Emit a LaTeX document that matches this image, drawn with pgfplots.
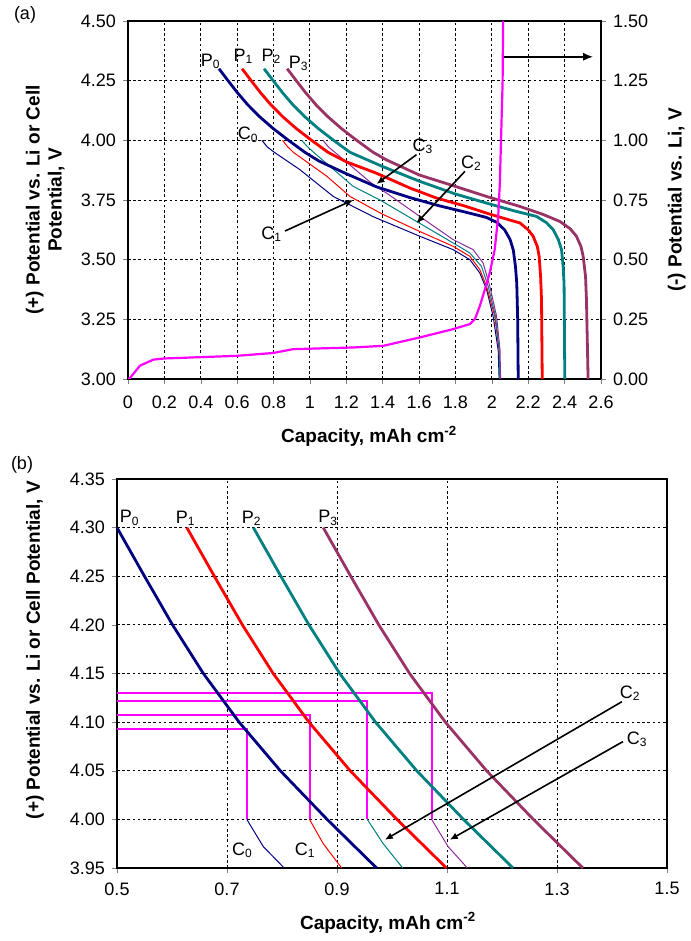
\documentclass[border=0pt]{standalone}
\usepackage{fontspec}
\setmainfont{Liberation Sans}
\usepackage{pgfplots}
\pgfplotsset{compat=1.18}
\usetikzlibrary{arrows.meta}

\definecolor{pnavy}{HTML}{000080}
\definecolor{pred}{HTML}{FF0000}
\definecolor{pteal}{HTML}{008080}
\definecolor{pplum}{HTML}{993366}
\definecolor{cviol}{HTML}{8E2A9E}
\definecolor{anode}{HTML}{FF00FF}

\pgfplotsset{
  basestyle/.style={
    scale only axis,
    /pgf/number format/assume math mode=true,
    tick label style={font=\fontsize{9}{10}\selectfont},
    label style={font=\fontsize{9.5}{11}\selectfont\bfseries},
    tick align=outside,
    major tick length=2.5pt,
    axis line style={line width=1pt},
    major grid style={black, line width=0.45pt, dash pattern=on 1.3pt off 1.3pt},
  },
  thickP/.style={line width=1.4pt},
  thinC/.style={line width=0.5pt},
}
\newcommand{\lab}{\fontsize{9}{10}\selectfont}

\begin{document}
\begin{tikzpicture}
\useasboundingbox (0,0) rectangle (345pt,470.5pt);

% ================= panel (a) =================
\begin{axis}[basestyle,
  at={(64pt,281pt)}, anchor=south west,
  width=236.5pt, height=179pt,
  xmin=0, xmax=2.6, ymin=3, ymax=4.5,
  xtick={0,0.2,0.4,0.6,0.8,1,1.2,1.4,1.6,1.8,2,2.2,2.4,2.6},
  ytick={3,3.25,3.5,3.75,4,4.25,4.5},
  xticklabel style={yshift=-2.5pt},
  yticklabel style={/pgf/number format/.cd,fixed,fixed zerofill,precision=2},
  xtick pos=bottom, ytick pos=left,
  grid=major,
  xlabel={Capacity, mAh cm\textsuperscript{-2}},
  ylabel={(+) Potential vs. Li or Cell\\Potential, V},
  xlabel style={at={(axis description cs:0.51,-0.16)}, anchor=center},
  ylabel style={at={(axis description cs:-0.175,0.5)}, anchor=center, align=center},
]
% cell curves (thin)
\addplot[thinC, pnavy] coordinates {(0.736,4.00)(0.766,3.972)(0.804,3.95)(0.945,3.877)(1.128,3.765)(1.348,3.68)(1.604,3.598)(1.787,3.542)(1.879,3.50)(1.934,3.444)(1.971,3.375)(2.007,3.263)(2.035,3.12)(2.04,3.0)};
\addplot[thinC, pred] coordinates {(0.85,4.00)(0.875,3.975)(0.9085,3.95)(1.092,3.85)(1.22,3.765)(1.40,3.69)(1.604,3.618)(1.787,3.556)(1.879,3.514)(1.934,3.458)(1.971,3.388)(2.016,3.263)(2.04,3.12)(2.044,3.0)};
\addplot[thinC, pteal] coordinates {(0.955,4.00)(0.984,3.975)(1.02,3.95)(1.238,3.807)(1.385,3.75)(1.586,3.66)(1.787,3.57)(1.879,3.528)(1.943,3.472)(1.98,3.388)(2.02,3.263)(2.04,3.12)(2.044,3.0)};
\addplot[thinC, cviol] coordinates {(1.072,4.00)(1.102,3.972)(1.137,3.95)(1.348,3.814)(1.421,3.779)(1.604,3.681)(1.787,3.584)(1.897,3.542)(1.952,3.486)(1.989,3.388)(2.026,3.263)(2.045,3.12)(2.048,3.0)};
% positive electrode curves (thick)
\addplot[thickP, pnavy] coordinates {(0.5,4.30)(0.55,4.25)(0.601,4.20)(0.657,4.15)(0.722,4.10)(0.797,4.05)(0.882,4.00)(0.972,3.95)(1.05,3.913)(1.2,3.86)(1.366,3.805)(1.55,3.76)(1.714,3.725)(1.85,3.70)(1.97,3.677)(2.03,3.655)(2.07,3.625)(2.10,3.585)(2.118,3.54)(2.13,3.47)(2.137,3.40)(2.142,3.25)(2.145,3.0)};
\addplot[thickP, pred] coordinates {(0.627,4.30)(0.677,4.25)(0.728,4.20)(0.784,4.15)(0.849,4.10)(0.924,4.05)(1.009,4.00)(1.099,3.95)(1.2,3.91)(1.366,3.862)(1.55,3.80)(1.696,3.758)(1.85,3.725)(1.971,3.695)(2.08,3.67)(2.154,3.654)(2.20,3.625)(2.227,3.598)(2.25,3.555)(2.26,3.514)(2.268,3.43)(2.273,3.333)(2.277,3.0)};
\addplot[thickP, pteal] coordinates {(0.748,4.30)(0.798,4.25)(0.849,4.20)(0.905,4.15)(0.970,4.10)(1.045,4.05)(1.130,4.00)(1.220,3.95)(1.40,3.89)(1.604,3.828)(1.80,3.775)(1.971,3.737)(2.12,3.705)(2.246,3.681)(2.30,3.655)(2.337,3.626)(2.365,3.585)(2.383,3.542)(2.392,3.47)(2.397,3.40)(2.401,3.0)};
\addplot[thickP, pplum] coordinates {(0.875,4.30)(0.925,4.25)(0.976,4.20)(1.032,4.15)(1.097,4.10)(1.172,4.05)(1.257,4.00)(1.347,3.95)(1.421,3.918)(1.60,3.855)(1.787,3.81)(1.97,3.765)(2.154,3.723)(2.28,3.69)(2.374,3.66)(2.43,3.63)(2.465,3.598)(2.49,3.555)(2.502,3.514)(2.515,3.43)(2.52,3.333)(2.529,3.0)};

\node[font=\lab] at (axis cs:0.454,4.33) {P\textsubscript{0}};
\node[font=\lab] at (axis cs:0.634,4.351) {P\textsubscript{1}};
\node[font=\lab] at (axis cs:0.788,4.351) {P\textsubscript{2}};
\node[font=\lab] at (axis cs:0.938,4.323) {P\textsubscript{3}};
\node[font=\lab] at (axis cs:0.661,4.023) {C\textsubscript{0}};
\node[font=\lab] at (axis cs:0.79,3.605) {C\textsubscript{1}};
\node[font=\lab] at (axis cs:1.888,3.905) {C\textsubscript{2}};
\node[font=\lab] at (axis cs:1.621,3.974) {C\textsubscript{3}};
\draw[-{Latex[length=4pt,width=3.5pt]}, line width=0.8pt] (axis cs:0.863,3.62) -- (axis cs:1.238,3.75);
\draw[-{Latex[length=4pt,width=3.5pt]}, line width=0.8pt] (axis cs:1.852,3.87) -- (axis cs:1.586,3.653);
\draw[-{Latex[length=4pt,width=3.5pt]}, line width=0.8pt] (axis cs:1.586,3.94) -- (axis cs:1.366,3.817);
\draw[-{Latex[length=5pt,width=4pt]}, line width=0.8pt] (axis cs:2.059,4.35) -- (axis cs:2.557,4.35);
\end{axis}

\begin{axis}[basestyle,
  at={(64pt,281pt)}, anchor=south west,
  width=236.5pt, height=179pt,
  xmin=0, xmax=2.6, ymin=0, ymax=1.5,
  hide x axis,
  axis y line*=right,
  ytick={0,0.25,0.5,0.75,1,1.25,1.5},
  yticklabel style={/pgf/number format/.cd,fixed,fixed zerofill,precision=2},
  ylabel={(-) Potential vs. Li, V},
  ylabel style={at={(axis description cs:1.16,0.5)}, anchor=center},
]
\addplot[anode, line width=1.1pt] coordinates {(0,0)(0.01,0.003)(0.066,0.056)(0.139,0.081)(0.2,0.086)(0.597,0.097)(0.798,0.109)(0.908,0.125)(1.238,0.132)(1.403,0.139)(1.604,0.174)(1.787,0.209)(1.879,0.230)(1.907,0.251)(1.934,0.306)(1.962,0.376)(1.989,0.446)(2.016,0.543)(2.035,0.682)(2.044,0.822)(2.049,0.961)(2.059,1.239)(2.062,1.50)};
\end{axis}

\node[font=\lab] at (12.5pt,463pt) {(a)};

% ================= panel (b) =================
\begin{axis}[basestyle,
  at={(58.5pt,36.5pt)}, anchor=south west,
  width=275pt, height=194.5pt,
  xmin=0.5, xmax=1.5, ymin=3.95, ymax=4.35,
  xtick={0.5,0.7,0.9,1.1,1.3,1.5},
  ytick={3.95,4,4.05,4.1,4.15,4.2,4.25,4.3,4.35},
  xticklabel style={yshift=-1.25pt, /pgf/number format/.cd,fixed,fixed zerofill,precision=1},
  yticklabel style={/pgf/number format/.cd,fixed,fixed zerofill,precision=2},
  xtick pos=bottom, ytick pos=left,
  grid=major,
  xlabel={Capacity, mAh cm\textsuperscript{-2}},
  ylabel={(+) Potential vs. Li or Cell Potential, V},
  xlabel style={at={(axis description cs:0.493,-0.141)}, anchor=center},
  ylabel style={at={(axis description cs:-0.149,0.56)}, anchor=center},
]
% step lines
\addplot[anode, line width=1pt] coordinates {(0.5,4.093)(0.736,4.093)(0.736,4.0)};
\addplot[anode, line width=1pt] coordinates {(0.5,4.107)(0.85,4.107)(0.85,4.0)};
\addplot[anode, line width=1pt] coordinates {(0.5,4.122)(0.955,4.122)(0.955,4.0)};
\addplot[anode, line width=1pt] coordinates {(0.5,4.13)(1.072,4.13)(1.072,4.0)};
% cell curves (thin)
\addplot[thinC, pnavy] coordinates {(0.736,4.00)(0.766,3.972)(0.804,3.95)};
\addplot[thinC, pred] coordinates {(0.85,4.00)(0.875,3.975)(0.9085,3.95)};
\addplot[thinC, pteal] coordinates {(0.955,4.00)(0.984,3.975)(1.0195,3.95)};
\addplot[thinC, cviol] coordinates {(1.072,4.00)(1.102,3.972)(1.137,3.95)};
% positive electrode curves (thick)
\addplot[thickP, pnavy] coordinates {(0.5,4.30)(0.55,4.25)(0.601,4.20)(0.657,4.15)(0.722,4.10)(0.797,4.05)(0.882,4.00)(0.972,3.95)};
\addplot[thickP, pred] coordinates {(0.627,4.30)(0.677,4.25)(0.728,4.20)(0.784,4.15)(0.849,4.10)(0.924,4.05)(1.009,4.00)(1.099,3.95)};
\addplot[thickP, pteal] coordinates {(0.748,4.30)(0.798,4.25)(0.849,4.20)(0.905,4.15)(0.970,4.10)(1.045,4.05)(1.130,4.00)(1.220,3.95)};
\addplot[thickP, pplum] coordinates {(0.875,4.30)(0.925,4.25)(0.976,4.20)(1.032,4.15)(1.097,4.10)(1.172,4.05)(1.257,4.00)(1.347,3.95)};

\node[font=\lab] at (axis cs:0.523,4.31) {P\textsubscript{0}};
\node[font=\lab] at (axis cs:0.625,4.31) {P\textsubscript{1}};
\node[font=\lab] at (axis cs:0.745,4.31) {P\textsubscript{2}};
\node[font=\lab] at (axis cs:0.884,4.31) {P\textsubscript{3}};
\node[font=\lab] at (axis cs:0.728,3.9685) {C\textsubscript{0}};
\node[font=\lab] at (axis cs:0.842,3.9685) {C\textsubscript{1}};
\node[font=\lab] at (axis cs:1.433,4.13) {C\textsubscript{2}};
\node[font=\lab] at (axis cs:1.446,4.082) {C\textsubscript{3}};
\draw[-{Latex[length=4pt,width=3.5pt]}, line width=0.8pt] (axis cs:1.418,4.121) -- (axis cs:0.987,3.979);
\draw[-{Latex[length=4pt,width=3.5pt]}, line width=0.8pt] (axis cs:1.42,4.08) -- (axis cs:1.105,3.979);
\end{axis}

\node[font=\lab] at (11pt,238pt) {(b)};
\end{tikzpicture}
\end{document}
